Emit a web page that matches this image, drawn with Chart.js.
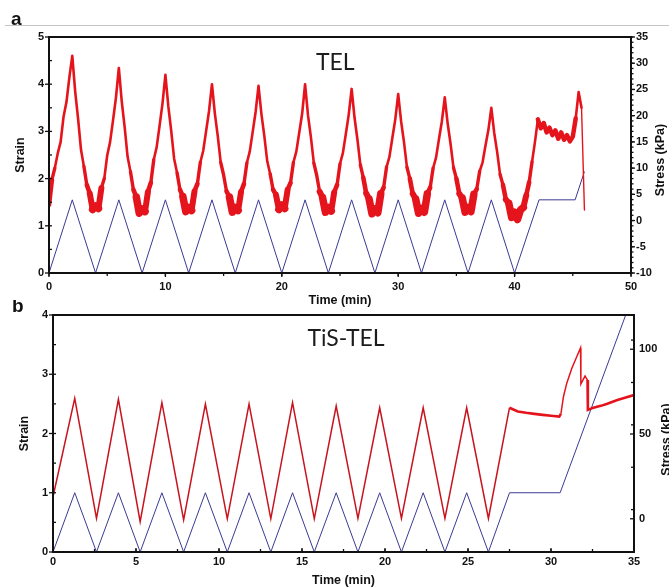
<!DOCTYPE html>
<html>
<head>
<meta charset="utf-8">
<script src="https://cdn.jsdelivr.net/npm/chart.js@4.4.1/dist/chart.umd.min.js"></script>
<style>
  body { margin: 0; background: #fff; }
  #wrap { position: relative; width: 669px; height: 588px; overflow: hidden; background: #fff; }
  #wrap canvas { position: absolute; left: 0; }
  #chartA { top: 0; }
  #chartB { top: 300px; }
</style>
</head>
<body>
<div id="wrap">
  <canvas id="chartA" width="669" height="310"></canvas>
  <canvas id="chartB" width="669" height="288"></canvas>
</div>
<script>
// ---- Panel a: TEL ----
const timeTicksA = [0, 10, 20, 30, 40, 50];
const strainTicksA = [0, 1, 2, 3, 4, 5];
const stressTicksA = [-10, -5, 0, 5, 10, 15, 20, 25, 30, 35];

// applied strain (blue), corners of the loading program
const strainTimeA = [0, 2, 4, 6, 8, 10, 12, 14, 16, 18, 20, 22, 24, 26, 28, 30, 32, 34, 36, 38, 40, 42.1, 45.2, 46.0];
const strainA = [0, 1.55, 0, 1.55, 0, 1.55, 0, 1.55, 0, 1.55, 0, 1.55, 0, 1.55, 0, 1.55, 0, 1.55, 0, 1.55, 0, 1.55, 1.55, 2.15];

// measured stress (red, kPa), read every 0.25 min from 0 to 46 min
const stressStepA = 0.25;
const stressA = [
  3.0, 7.8, 10.0, 12.8, 15.0, 19.8, 22.6, 27.3,
  31.4, 24.6, 19.4, 13.5, 10.3, 6.8, 5.2, 2.1,
  2.8, 2.3, 6.2, 8.0, 12.4, 15.0, 19.1, 23.4,
  29.1, 22.7, 17.8, 12.2, 9.3, 5.9, 4.5, 1.4,
  2.2, 1.7, 5.5, 7.2, 11.6, 14.0, 18.1, 22.3,
  27.8, 21.8, 17.1, 11.8, 9.1, 5.9, 4.6, 1.7,
  2.5, 1.9, 5.6, 7.0, 11.1, 13.3, 17.1, 20.9,
  26.0, 20.4, 16.1, 11.1, 8.7, 5.6, 4.5, 1.6,
  2.5, 1.9, 5.5, 7.0, 11.0, 13.2, 16.9, 20.7,
  25.7, 20.3, 16.1, 11.3, 8.9, 5.9, 4.9, 2.1,
  3.0, 2.3, 5.9, 7.2, 11.1, 13.2, 16.8, 20.4,
  26.0, 20.1, 15.9, 11.0, 8.6, 5.5, 4.4, 1.6,
  2.5, 1.8, 5.4, 6.8, 10.8, 12.9, 16.5, 20.2,
  25.1, 19.6, 15.4, 10.6, 8.2, 5.2, 4.1, 1.3,
  2.2, 1.5, 5.1, 6.3, 10.2, 12.2, 15.8, 19.3,
  24.1, 18.9, 14.9, 10.2, 8.0, 5.1, 4.1, 1.4,
  2.3, 1.6, 5.1, 6.3, 10.0, 12.0, 15.5, 18.9,
  23.5, 18.5, 14.6, 10.1, 8.0, 5.1, 4.3, 1.6,
  2.5, 1.7, 5.0, 6.0, 9.4, 11.1, 14.3, 17.3,
  21.5, 16.7, 13.1, 8.8, 6.8, 4.0, 3.3, 0.6,
  1.6, 0.2, 2.0, 2.5, 4.8, 7.3, 11.2, 15.0,
  19.3, 17.6, 18.6, 16.8, 17.7, 16.3, 17.2, 15.6,
  16.8, 15.4, 16.3, 15.1, 16.0, 19.5, 24.5, 21.5,
  2.0
];

// ---- Panel b: TiS-TEL ----
const timeTicksB = [0, 5, 10, 15, 20, 25, 30, 35];
const strainTicksB = [0, 1, 2, 3, 4];
const stressTicksB = [0, 50, 100];

const strainTimeB = [0, 1.31, 2.62, 3.94, 5.25, 6.56, 7.87, 9.18, 10.5, 11.81, 13.12, 14.43, 15.74, 17.06, 18.37, 19.68, 20.99, 22.3, 23.61, 24.92, 26.23, 27.5, 30.55, 35.0];
const strainB = [0, 1, 0, 1, 0, 1, 0, 1, 0, 1, 0, 1, 0, 1, 0, 1, 0, 1, 0, 1, 0, 1, 1, 4.38];

const stressTimeB = [0, 1.31, 2.62, 3.94, 5.25, 6.56, 7.87, 9.18, 10.5, 11.81, 13.12, 14.43, 15.74, 17.06, 18.37, 19.68, 20.99, 22.3, 23.61, 24.92, 26.23,
  27.5, 28.0, 28.5, 29.0, 29.5, 30.0, 30.5,
  30.6, 30.75, 30.95, 31.25, 31.55, 31.78, 31.8, 32.05, 32.2, 32.22, 32.5, 33.0, 33.35, 34.0, 34.5, 35.0];
const stressB = [13, 71.0, 0.3, 70.5, -1.7, 68.5, -0.7, 67.7, 0, 67.7, 0, 68.5, 0, 66.5, 0.2, 65.5, 0.2, 65.5, 0.2, 65.5, 0.2,
  65.5, 63.3, 62.5, 61.9, 61.3, 60.8, 60.3,
  62.0, 72.0, 80.0, 88.7, 95.6, 100.8, 79.5, 84.2, 81.8, 64.2, 65.3, 66.6, 67.7, 70.0, 71.5, 73.0];

const RED = '#e5141c';
const RED_B = '#c8141e';
const BLUE = '#3a3a92';
const tickFont = { family: 'Liberation Sans', size: 11, weight: 'bold' };
const titleFont = { family: 'Liberation Sans', size: 12.5, weight: 'bold' };

function pairs(xs, ys) {
  return ys.map((y, i) => ({ x: xs[i], y: y }));
}
function setTicks(list) {
  return function(scale) { scale.ticks = list.map(v => ({ value: v })); };
}

// the noisy trace looks fatter where the stress is low and during the hold
function noisyWidth(c) {
  const x = c.p0.parsed.x;
  const y = (c.p0.parsed.y + c.p1.parsed.y) / 2;
  if (x >= 42 && x < 45.25) return 4.5;
  if (x >= 45.75) return 1.4;
  if (y < 3.5) return 7.5;
  if (y < 5) return 6;
  if (y < 7) return 4.6;
  if (y < 10) return 3.4;
  return 2.6;
}

// frame, tick marks and loose texts
const decor = {
  id: 'decor',
  afterDraw(chart, args, opts) {
    const ctx = chart.ctx;
    const area = chart.chartArea;
    ctx.save();
    ctx.strokeStyle = '#111';
    ctx.lineWidth = 1.3;
    opts.marks.forEach(m => {
      const sc = chart.scales[m.axis];
      const vals = [];
      if (m.minor) {
        for (let v = sc.min; v <= sc.max + 1e-9; v += m.minor) vals.push([v, m.minorLen]);
      }
      sc.ticks.forEach(t => vals.push([t.value, m.majorLen]));
      vals.forEach(([v, len]) => {
        const p = sc.getPixelForValue(v);
        ctx.beginPath();
        if (m.axis === 'x') {
          ctx.moveTo(p, area.bottom);
          ctx.lineTo(p, area.bottom + len);
        } else if (m.axis === 'y') {
          ctx.moveTo(area.left, p);
          ctx.lineTo(area.left - len, p);
        } else {
          ctx.moveTo(area.right, p);
          ctx.lineTo(area.right + len, p);
        }
        ctx.stroke();
      });
    });
    ctx.lineWidth = 2;
    ctx.strokeRect(area.left, area.top, area.right - area.left, area.bottom - area.top);

    if (opts.rule) {
      ctx.strokeStyle = '#c4c4c4';
      ctx.lineWidth = 1;
      ctx.beginPath();
      ctx.moveTo(5, opts.rule + 0.5);
      ctx.lineTo(chart.width, opts.rule + 0.5);
      ctx.stroke();
    }

    ctx.fillStyle = '#111';
    ctx.font = 'bold 19px "Liberation Sans"';
    ctx.textAlign = 'left';
    ctx.textBaseline = 'alphabetic';
    ctx.fillText(opts.letter, opts.letterPos[0], opts.letterPos[1]);

    ctx.font = '23px Lato';
    ctx.fillStyle = '#1c1c1c';
    ctx.textAlign = 'center';
    ctx.textBaseline = 'middle';
    ctx.fillText(opts.label, chart.scales.x.getPixelForValue(opts.labelAt[0]), chart.scales.y.getPixelForValue(opts.labelAt[1]));

    ctx.font = 'bold 12.5px "Liberation Sans"';
    ctx.fillStyle = '#111';
    ctx.translate(opts.rightTitleX, (area.top + area.bottom) / 2 + opts.rightTitleDy);
    ctx.rotate(-Math.PI / 2);
    ctx.fillText('Stress (kPa)', 0, 0);
    ctx.restore();
  }
};

function axisBase(extra) {
  return Object.assign({
    grid: { display: false, drawTicks: false },
    border: { display: false },
  }, extra);
}

// ---------- chart a ----------
new Chart(document.getElementById('chartA'), {
  type: 'line',
  data: {
    datasets: [
      {
        label: 'Stress',
        data: stressA.map((v, i) => ({ x: i * stressStepA, y: v })),
        yAxisID: 'y2',
        borderColor: RED,
        borderWidth: 2.6,
        borderJoinStyle: 'round',
        borderCapStyle: 'round',
        segment: { borderWidth: noisyWidth },
        pointRadius: 0,
        tension: 0
      },
      {
        label: 'Strain',
        data: pairs(strainTimeA, strainA),
        yAxisID: 'y',
        borderColor: BLUE,
        borderWidth: 1,
        pointRadius: 0,
        tension: 0
      }
    ]
  },
  options: {
    responsive: false,
    devicePixelRatio: 1,
    animation: false,
    layout: { padding: { top: 37, left: 0, right: 0, bottom: 0 } },
    plugins: {
      legend: { display: false },
      tooltip: { enabled: false },
      decor: {
        marks: [
          { axis: 'x', majorLen: 4, minor: 5, minorLen: 3 },
          { axis: 'y', majorLen: 4, minor: 0.5, minorLen: -3 },
          { axis: 'y2', majorLen: 4, minor: 1, minorLen: 2.5 }
        ],
        rule: 25,
        letter: 'a',
        letterPos: [11, 25],
        label: 'TEL',
        labelAt: [24.6, 4.45],
        rightTitleX: 661,
        rightTitleDy: 5
      }
    },
    scales: {
      x: axisBase({
        type: 'linear', min: 0, max: 50,
        afterBuildTicks: setTicks(timeTicksA),
        afterFit: s => { s.height = 37; },
        ticks: { font: tickFont, color: '#111', padding: 7, maxRotation: 0 },
        title: { display: true, text: 'Time (min)', font: titleFont, color: '#111', padding: { top: 0, bottom: 2 } }
      }),
      y: axisBase({
        type: 'linear', position: 'left', min: 0, max: 5,
        afterBuildTicks: setTicks(strainTicksA),
        afterFit: s => { s.width = 49; },
        ticks: { font: tickFont, color: '#111', padding: 5 },
        title: { display: true, text: 'Strain', font: titleFont, color: '#111', padding: { top: 13, bottom: 0 } }
      }),
      y2: axisBase({
        type: 'linear', position: 'right', min: -10, max: 35,
        afterBuildTicks: setTicks(stressTicksA),
        afterFit: s => { s.width = 38; },
        ticks: { font: tickFont, color: '#111', padding: 5 }
      })
    }
  },
  plugins: [decor]
});

// ---------- chart b ----------
new Chart(document.getElementById('chartB'), {
  type: 'line',
  data: {
    datasets: [
      {
        label: 'Stress',
        data: pairs(stressTimeB, stressB),
        yAxisID: 'y2',
        borderColor: RED_B,
        borderWidth: 1.5,
        segment: {
          borderWidth: c => (c.p0.parsed.x >= 27.5 && !(c.p0.parsed.x > 30.5 && c.p0.parsed.x < 32.2)) ? 2.6 : 1.5,
          borderColor: c => (c.p0.parsed.x >= 27.5 ? RED : RED_B)
        },
        pointRadius: 0,
        tension: 0
      },
      {
        label: 'Strain',
        data: pairs(strainTimeB, strainB),
        yAxisID: 'y',
        borderColor: BLUE,
        borderWidth: 1,
        pointRadius: 0,
        tension: 0
      }
    ]
  },
  options: {
    responsive: false,
    devicePixelRatio: 1,
    animation: false,
    layout: { padding: { top: 15, left: 0, right: 0, bottom: 0 } },
    plugins: {
      legend: { display: false },
      tooltip: { enabled: false },
      decor: {
        marks: [
          { axis: 'x', majorLen: -4, minor: 2.5, minorLen: -3 },
          { axis: 'y', majorLen: 4, minor: 0.5, minorLen: -3 },
          { axis: 'y2', majorLen: -4, minor: 25, minorLen: -3 }
        ],
        rule: 0,
        letter: 'b',
        letterPos: [12, 12],
        label: 'TiS-TEL',
        labelAt: [17.65, 3.61],
        rightTitleX: 667,
        rightTitleDy: 6
      }
    },
    scales: {
      x: axisBase({
        type: 'linear', min: 0, max: 35,
        afterBuildTicks: setTicks(timeTicksB),
        afterFit: s => { s.height = 36; },
        ticks: { font: tickFont, color: '#111', padding: 3, maxRotation: 0 },
        title: { display: true, text: 'Time (min)', font: titleFont, color: '#111', padding: { top: 0, bottom: 0 } }
      }),
      y: axisBase({
        type: 'linear', position: 'left', min: 0, max: 4,
        afterBuildTicks: setTicks(strainTicksB),
        afterFit: s => { s.width = 53; },
        ticks: { font: tickFont, color: '#111', padding: 5 },
        title: { display: true, text: 'Strain', font: titleFont, color: '#111', padding: { top: 17, bottom: 0 } }
      }),
      y2: axisBase({
        type: 'linear', position: 'right', min: -19.6, max: 120.2,
        afterBuildTicks: setTicks(stressTicksB),
        afterFit: s => { s.width = 35; },
        ticks: { font: tickFont, color: '#111', padding: 5 }
      })
    }
  },
  plugins: [decor]
});
</script>
</body>
</html>
